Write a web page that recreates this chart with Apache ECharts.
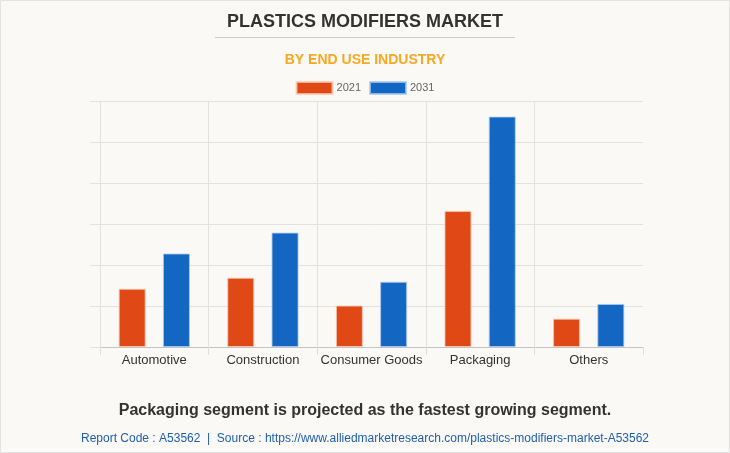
<!DOCTYPE html>
<html><head><meta charset="utf-8">
<script src="https://cdn.jsdelivr.net/npm/echarts@6/dist/echarts.min.js"></script>
<style>html,body{margin:0;padding:0;background:#faf9f5}#c{width:730px;height:453px}</style>
</head><body><div id="c"></div>
<script>
const categories = ['Automotive', 'Construction', 'Consumer Goods', 'Packaging', 'Others'];
const seriesNames = ['2021', '2031'];
const values2021 = [1.42, 1.69, 1.01, 3.32, 0.69];
const values2031 = [2.28, 2.79, 1.59, 5.62, 1.05];
const colors = ['#E04916', '#1366C2'];

const chart = echarts.init(document.getElementById('c'));
chart.setOption({
  backgroundColor: '#faf9f5',
  animation: false,
  title: [
    { text: 'PLASTICS MODIFIERS MARKET', left: 'center', top: 8,
      textStyle: { fontFamily: 'Liberation Sans', fontSize: 18, fontWeight: 'bold', color: '#333333' } },
    { text: 'BY END USE INDUSTRY', left: 'center', top: 48,
      textStyle: { fontFamily: 'Liberation Sans', fontSize: 14, fontWeight: 'bold', color: '#F7A823' } },
    { text: 'Packaging segment is projected as the fastest growing segment.', left: 'center', top: 398,
      textStyle: { fontFamily: 'Liberation Sans', fontSize: 16, fontWeight: 'bold', color: '#333333' } },
    { text: 'Report Code : A53562  |  Source : https://www.alliedmarketresearch.com/plastics-modifiers-market-A53562', left: 'center', top: 428,
      textStyle: { fontFamily: 'Liberation Sans', fontSize: 12, fontWeight: 'normal', color: '#1F5FAE' } }
  ],
  graphic: [
    { type: 'line', shape: { x1: 215, y1: 37.5, x2: 515, y2: 37.5 }, style: { stroke: '#cccccc', lineWidth: 1 } },
    { type: 'rect', shape: { x: 0.5, y: 0.5, width: 729, height: 452 }, style: { fill: 'none', stroke: '#e3e3e3', lineWidth: 1 } }
  ],
  legend: {
    top: 76, left: 'center', itemWidth: 36, itemHeight: 12, itemGap: 8, icon: 'rect',
    textStyle: { fontFamily: 'Liberation Sans', fontSize: 11, color: '#666666', padding: [0, 0, 0, -1] },
    data: seriesNames
  },
  grid: { left: 100, right: 87, top: 101, bottom: 106 },
  xAxis: {
    type: 'category', data: categories,
    axisLine: { lineStyle: { color: '#c4c4c4', width: 1 } },
    axisTick: { show: true, interval: 0, length: 8, lineStyle: { color: '#dedede' } },
    splitLine: { show: true, interval: 0, showMaxLine: false, lineStyle: { color: '#e2e2e2' } },
    axisLabel: { interval: 0, fontFamily: 'Liberation Sans', fontSize: 13, color: '#333333', margin: 7 }
  },
  yAxis: {
    type: 'value', min: 0, max: 6, interval: 1,
    axisLine: { show: false },
    axisTick: { show: true, length: 10, lineStyle: { color: '#e2e2e2' } },
    axisLabel: { show: false },
    splitLine: { lineStyle: { color: '#e2e2e2' } }
  },
  series: [
    { name: seriesNames[0], type: 'bar', data: values2021, barWidth: 27, barGap: '64%',
      itemStyle: { color: colors[0], borderColor: 'rgba(255,200,180,0.8)', borderWidth: 1 } },
    { name: seriesNames[1], type: 'bar', data: values2031, barWidth: 27, barGap: '64%',
      itemStyle: { color: colors[1], borderColor: 'rgba(170,200,240,0.8)', borderWidth: 1 } }
  ]
});
</script></body></html>
